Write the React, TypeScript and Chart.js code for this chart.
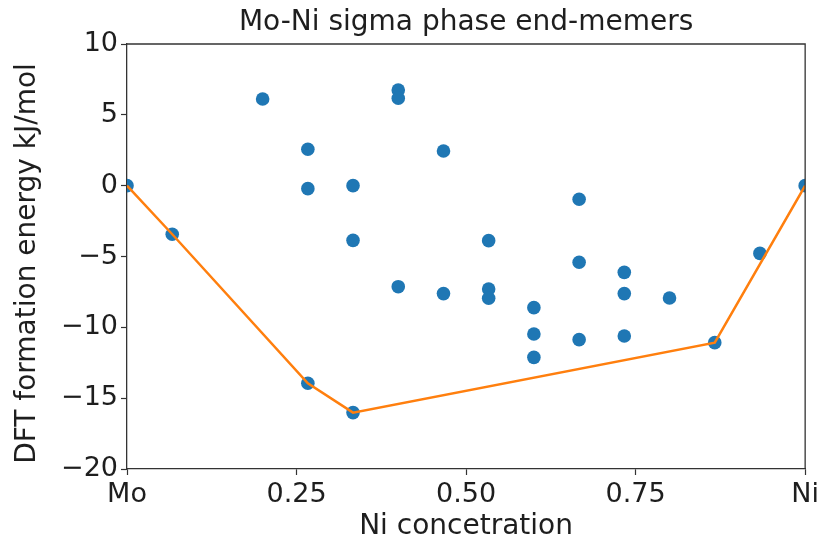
import React, { useEffect, useRef } from 'react';
import { Chart, registerables } from 'chart.js';

Chart.register(...registerables);

const chartTitle = 'Mo-Ni sigma phase end-memers';
const xAxisTitle = 'Ni concetration';
const yAxisTitle = 'DFT formation energy kJ/mol';

const xTickValues = [0, 0.25, 0.5, 0.75, 1];
const xTickLabels = ['Mo', '0.25', '0.50', '0.75', 'Ni'];
const yTickValues = [-20, -15, -10, -5, 0, 5, 10];
const yTickLabels = ['\u221220', '\u221215', '\u221210', '\u22125', '0', '5', '10'];

// end-member compositions (Ni fraction) and DFT formation energies (kJ/mol)
const niFraction = [
  0, 0.0667, 0.2,
  0.2667, 0.2667, 0.2667,
  0.3333, 0.3333, 0.3333,
  0.4, 0.4, 0.4,
  0.4667, 0.4667,
  0.5333, 0.5333, 0.5333,
  0.6, 0.6, 0.6,
  0.6667, 0.6667, 0.6667,
  0.7333, 0.7333, 0.7333,
  0.8, 0.8667, 0.9333, 1,
];
const formationEnergy = [
  0, -3.43, 6.12,
  2.57, -0.21, -13.95,
  0.0, -3.86, -16.02,
  6.75, 6.17, -7.13,
  2.45, -7.62,
  -3.88, -7.29, -7.95,
  -8.61, -10.47, -12.12,
  -0.96, -5.41, -10.87,
  -6.12, -7.62, -10.61,
  -7.93, -11.08, -4.78, 0,
];

// convex hull
const hullFraction = [0, 0.0667, 0.2667, 0.3333, 0.8667, 1];
const hullEnergy = [0, -3.43, -13.95, -16.02, -11.08, 0];

const W = 823;
const H = 541;
const FONT = '"DejaVu Sans", sans-serif';
const TEXT = '#1e1e1e';
const AXIS = '#333';

function labelFor(values: number[], labels: string[], v: number) {
  const i = values.findIndex((t) => Math.abs(t - v) < 1e-6);
  return i >= 0 ? labels[i] : '';
}

const framePlugin = {
  id: 'frameAndTitle',
  afterDraw(chart: any) {
    const { ctx, chartArea } = chart;
    const { left, right, top, bottom } = chartArea;
    ctx.save();
    ctx.strokeStyle = AXIS;
    ctx.lineWidth = 1.3;
    ctx.beginPath();
    ctx.moveTo(left, top);
    ctx.lineTo(right, top);
    ctx.lineTo(right, bottom);
    ctx.stroke();
    ctx.fillStyle = TEXT;
    ctx.font = `28px ${FONT}`;
    ctx.textAlign = 'center';
    ctx.textBaseline = 'middle';
    ctx.fillText(chartTitle, (left + right) / 2, 22.5);
    ctx.translate(28, (top + bottom) / 2 + 7);
    ctx.rotate(-Math.PI / 2);
    ctx.fillText(yAxisTitle, 0, 0);
    ctx.restore();
  },
};

export default function App() {
  const ref = useRef<HTMLCanvasElement>(null);
  useEffect(() => {
    if (!ref.current) return;
    const points = niFraction.map((x, i) => ({ x, y: formationEnergy[i] }));
    const hull = hullFraction.map((x, i) => ({ x, y: hullEnergy[i] }));
    const chart = new Chart(ref.current, {
      type: 'scatter',
      data: {
        datasets: [
          {
            data: hull,
            showLine: true,
            borderColor: '#ff7f0e',
            borderWidth: 2.5,
            pointRadius: 0,
            tension: 0,
            fill: false,
            clip: 0,
          } as any,
          {
            data: points,
            backgroundColor: '#1f77b4',
            borderWidth: 0,
            pointRadius: 6.8,
            clip: 0,
          } as any,
        ],
      },
      options: {
        responsive: false,
        animation: false,
        devicePixelRatio: 1,
        layout: { padding: { top: 44, right: 16, bottom: 0, left: 0 } },
        plugins: {
          legend: { display: false },
          title: { display: false },
          tooltip: { enabled: false },
        },
        scales: {
          x: {
            type: 'linear',
            min: 0,
            max: 1,
            afterFit: (s: any) => {
              s.height = 72;
            },
            afterBuildTicks: (s: any) => {
              s.ticks = xTickValues.map((v) => ({ value: v }));
            },
            ticks: {
              callback: (v: any) => labelFor(xTickValues, xTickLabels, Number(v)),
              font: { size: 27, family: FONT },
              color: TEXT,
              padding: 4,
              maxRotation: 0,
              autoSkip: false,
            },
            grid: {
              drawOnChartArea: false,
              drawTicks: true,
              tickLength: 6,
              color: AXIS,
              tickWidth: 1.2,
            },
            border: { display: true, color: AXIS, width: 1.3 },
            title: {
              display: true,
              text: xAxisTitle,
              font: { size: 28, family: FONT },
              color: TEXT,
              padding: { top: 0, bottom: -3 },
            },
          },
          y: {
            type: 'linear',
            min: -20,
            max: 10,
            afterFit: (s: any) => {
              s.width = 127;
            },
            afterBuildTicks: (s: any) => {
              s.ticks = yTickValues.map((v) => ({ value: v }));
            },
            ticks: {
              callback: (v: any) => labelFor(yTickValues, yTickLabels, Number(v)),
              font: { size: 27, family: FONT },
              color: TEXT,
              padding: 3,
              autoSkip: false,
            },
            grid: {
              drawOnChartArea: false,
              drawTicks: true,
              tickLength: 6,
              color: AXIS,
              tickWidth: 1.2,
            },
            border: { display: true, color: AXIS, width: 1.3 },
            title: { display: false },
          },
        },
      } as any,
      plugins: [framePlugin],
    });
    return () => chart.destroy();
  }, []);

  return (
    <div
      style={{
        position: 'fixed',
        left: 0,
        top: 0,
        width: W,
        height: H,
        background: '#fff',
      }}
    >
      <canvas ref={ref} width={W} height={H} style={{ display: 'block', width: W, height: H }} />
    </div>
  );
}
